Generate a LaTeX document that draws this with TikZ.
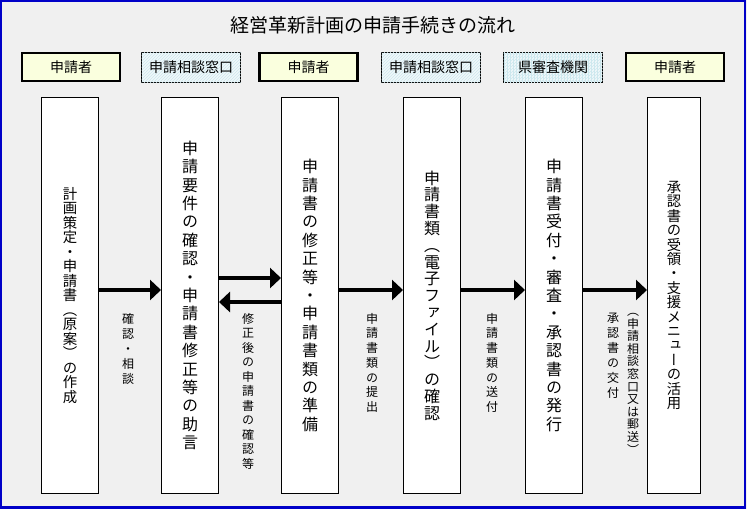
\documentclass[tikz,border=0pt]{standalone}
\usepackage{fontspec}
\setmainfont{Noto Sans CJK JP}
\newfontfamily\tatefont[RawFeature=+vert]{Noto Sans CJK JP}
\usetikzlibrary{arrows.meta,patterns}
\definecolor{figBg}{RGB}{240,240,240}
\definecolor{figF}{RGB}{0,0,200}
\definecolor{figY}{RGB}{250,255,222}
\definecolor{figC}{RGB}{240,248,250}
\definecolor{figH}{RGB}{205,232,238}
% vertical writing: one character per line
\def\tateloop#1{\ifx#1\relax\else\hbox to 1em{\hss#1\hss}\expandafter\tateloop\fi}
\newcommand\tate[2]{\vbox{\baselineskip=#1\lineskip=0pt\lineskiplimit=-100pt\tateloop#2\relax}}

\begin{document}
\begin{tikzpicture}[x=1pt,y=-1pt,
  who/.style={draw,line width=2.5pt,fill=figY,minimum width=98pt,minimum height=28pt,inner sep=0pt,font=\fontsize{14}{16}\selectfont},
  desk/.style={draw,line width=0.8pt,fill=figC,postaction={pattern=north east lines,pattern color=figH},minimum width=99pt,minimum height=30pt,inner sep=0pt,font=\fontsize{14}{16}\selectfont},
  pref/.style={desk,postaction={pattern=vertical lines,pattern color=figH}},
  stagebox/.style={draw,line width=1pt,fill=white,minimum width=57pt,minimum height=396pt,inner sep=0pt,font=\fontsize{16}{18}\selectfont\tatefont},
  lbl/.style={anchor=north,inner sep=0pt,font=\fontsize{12}{14}\selectfont\tatefont},
  flow/.style={line width=4pt,-{Triangle[length=11pt,width=20pt]}}]
\useasboundingbox (0,0) rectangle (747,509);
\fill[figBg] (0,0) rectangle (747,509);
\draw[figF,line width=2.5pt] (1.2,1.2) rectangle (745,507.5);

\node (title) at (373,25) {\fontsize{19}{21}\selectfont 経営革新計画の申請手続きの流れ};

% who does what
\node[who]  (h1) at (71,67)    {申請者};
\node[desk] (h2) at (191,67.5) {申請相談窓口};
\node[who]  (h3) at (308.5,67) {申請者};
\node[desk] (h4) at (431,67.5) {申請相談窓口};
\node[pref] (h5) at (553,67.5) {県審査機関};
\node[who]  (h6) at (675,67)   {申請者};

% stages
\node[stagebox,font=\fontsize{14.4}{16}\selectfont\tatefont] (b1) at (70,295.5) {\tate{14.5pt}{計画策定・申請書（原案）の作成}};
\node[stagebox] (b2) at (190,295.5) {\tate{18.4pt}{申請要件の確認・申請書修正等の助言}};
\node[stagebox] (b3) at (310,295.5) {\tate{18.4pt}{申請書の修正等・申請書類の準備}};
\node[stagebox] (b4) at (432,295.5) {\tate{16.8pt}{申請書類（電子ファイル）の確認}};
\node[stagebox] (b5) at (554,295.5) {\tate{18.4pt}{申請書受付・審査・承認書の発行}};
\node[stagebox,minimum width=53pt,font=\fontsize{14.3}{16}\selectfont\tatefont] (b6) at (674,295.5) {\tate{14.4pt}{承認書の受領・支援メニューの活用}};

\draw[flow] ([yshift=5.5pt]b1.east) -- ([yshift=5.5pt]b2.west);
\draw[flow] ([yshift=17.5pt]b2.east) -- ([yshift=17.5pt]b3.west);
\draw[flow] ([yshift=-6.5pt]b3.west) -- ([yshift=-6.5pt]b2.east);
\draw[flow] ([yshift=5.5pt]b3.east) -- ([yshift=5.5pt]b4.west);
\draw[flow] ([yshift=5.5pt]b4.east) -- ([yshift=5.5pt]b5.west);
\draw[flow] ([yshift=5.5pt]b5.east) -- ([yshift=5.5pt]b6.west);

\node[lbl] (l1) at (128,313) {\tate{15pt}{確認・相談}};
\node[lbl] (l2) at (248,313) {\tate{14.5pt}{修正後の申請書の確認等}};
\node[lbl] (l3) at (372,313) {\tate{14.7pt}{申請書類の提出}};
\node[lbl] (l4) at (492,313) {\tate{14.7pt}{申請書類の送付}};
\node[lbl] (l5) at (613,313) {\tate{15pt}{承認書の交付}};
\node[lbl] (l6) at (633,313) {\tate{12.6pt}{（申請相談窓口又は郵送）}};
\end{tikzpicture}
\end{document}
